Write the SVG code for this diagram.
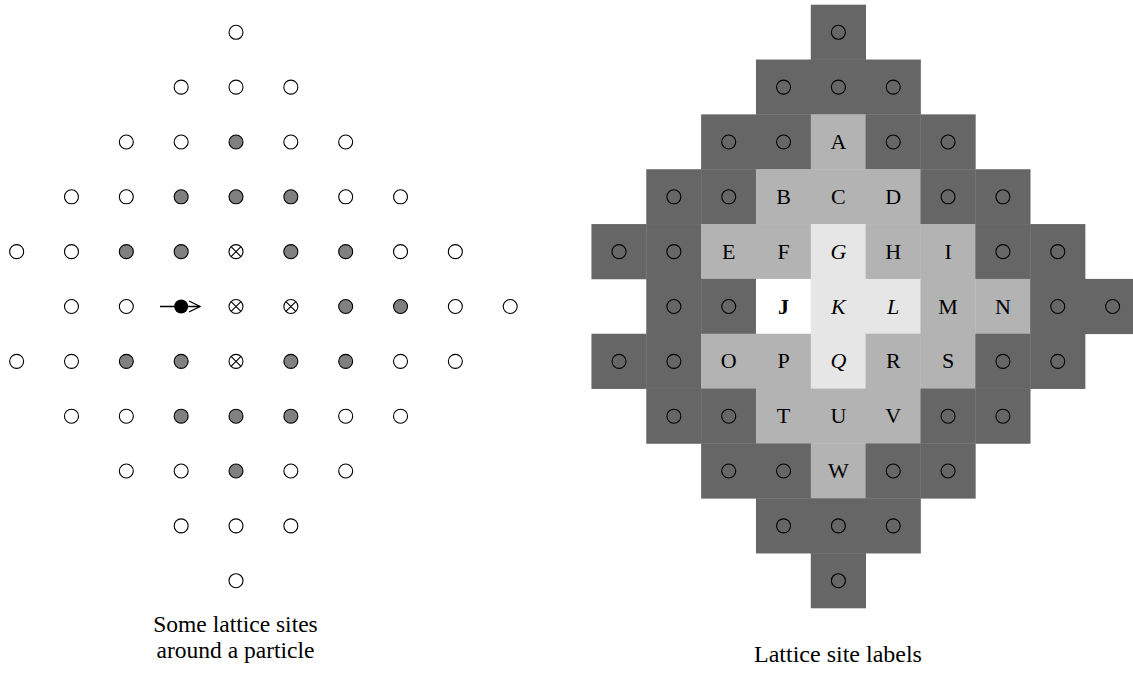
<svg xmlns="http://www.w3.org/2000/svg" xmlns:xlink="http://www.w3.org/1999/xlink" width="1133" height="673" viewBox="0 0 1133 673">
<style>
.dk{fill:#666666}
.lt{fill:#b3b3b3}
.lr{fill:#e6e6e6}
.wh{fill:#ffffff}
.lab{font-family:"Liberation Serif","Times New Roman",serif;font-size:22px;text-anchor:middle;fill:#000}
.cap{font-family:"Liberation Serif","Times New Roman",serif;font-size:24px;text-anchor:middle;fill:#000}
.cap2{font-family:"Liberation Serif","Times New Roman",serif;font-size:23.5px;text-anchor:middle;fill:#000}
</style>
<defs>
<circle id="o" r="7" fill="#fff" stroke="#000" stroke-width="1.1"/>
<circle id="g" r="7" fill="#808080" stroke="#000" stroke-width="1.1"/>
<g id="x"><circle r="7" fill="#fff" stroke="#000" stroke-width="1.1"/><path d="M-4.95,-4.95L4.95,4.95M-4.95,4.95L4.95,-4.95" stroke="#000" stroke-width="1.1"/></g>
<circle id="d" r="7" fill="none" stroke="#000" stroke-width="1.1"/>
<rect id="c" x="-27.6" y="-27.6" width="55.2" height="55.2"/>
</defs>
<rect width="1133" height="673" fill="#fff"/>

<g id="left-lattice">
<use href="#o" x="236" y="32.3"/>
<use href="#o" x="181.16" y="87.14"/><use href="#o" x="236" y="87.14"/><use href="#o" x="290.84" y="87.14"/>
<use href="#o" x="126.32" y="141.98"/><use href="#o" x="181.16" y="141.98"/><use href="#g" x="236" y="141.98"/><use href="#o" x="290.84" y="141.98"/><use href="#o" x="345.68" y="141.98"/>
<use href="#o" x="71.48" y="196.82"/><use href="#o" x="126.32" y="196.82"/><use href="#g" x="181.16" y="196.82"/><use href="#g" x="236" y="196.82"/><use href="#g" x="290.84" y="196.82"/><use href="#o" x="345.68" y="196.82"/><use href="#o" x="400.52" y="196.82"/>
<use href="#o" x="16.64" y="251.66"/><use href="#o" x="71.48" y="251.66"/><use href="#g" x="126.32" y="251.66"/><use href="#g" x="181.16" y="251.66"/><use href="#x" x="236" y="251.66"/><use href="#g" x="290.84" y="251.66"/><use href="#g" x="345.68" y="251.66"/><use href="#o" x="400.52" y="251.66"/><use href="#o" x="455.36" y="251.66"/>
<use href="#o" x="71.48" y="306.5"/><use href="#o" x="126.32" y="306.5"/><use href="#x" x="236" y="306.5"/><use href="#x" x="290.84" y="306.5"/><use href="#g" x="345.68" y="306.5"/><use href="#g" x="400.52" y="306.5"/><use href="#o" x="455.36" y="306.5"/><use href="#o" x="510.2" y="306.5"/>
<use href="#o" x="16.64" y="361.34"/><use href="#o" x="71.48" y="361.34"/><use href="#g" x="126.32" y="361.34"/><use href="#g" x="181.16" y="361.34"/><use href="#x" x="236" y="361.34"/><use href="#g" x="290.84" y="361.34"/><use href="#g" x="345.68" y="361.34"/><use href="#o" x="400.52" y="361.34"/><use href="#o" x="455.36" y="361.34"/>
<use href="#o" x="71.48" y="416.18"/><use href="#o" x="126.32" y="416.18"/><use href="#g" x="181.16" y="416.18"/><use href="#g" x="236" y="416.18"/><use href="#g" x="290.84" y="416.18"/><use href="#o" x="345.68" y="416.18"/><use href="#o" x="400.52" y="416.18"/>
<use href="#o" x="126.32" y="471.02"/><use href="#o" x="181.16" y="471.02"/><use href="#g" x="236" y="471.02"/><use href="#o" x="290.84" y="471.02"/><use href="#o" x="345.68" y="471.02"/>
<use href="#o" x="181.16" y="525.86"/><use href="#o" x="236" y="525.86"/><use href="#o" x="290.84" y="525.86"/>
<use href="#o" x="236" y="580.7"/>
</g>

<g id="particle">
<line x1="160" y1="306.5" x2="200" y2="306.5" stroke="#000" stroke-width="1.3"/>
<circle cx="181.16" cy="306.5" r="7" fill="#000"/>
<polyline points="189,301 200,306.5 189,312" fill="none" stroke="#000" stroke-width="1.3"/>
</g>

<g id="right-cells">
<use href="#c" class="dk" x="838.4" y="32.3"/>
<use href="#c" class="dk" x="783.56" y="87.14"/><use href="#c" class="dk" x="838.4" y="87.14"/><use href="#c" class="dk" x="893.24" y="87.14"/>
<use href="#c" class="dk" x="728.72" y="141.98"/><use href="#c" class="dk" x="783.56" y="141.98"/><use href="#c" class="lt" x="838.4" y="141.98"/><use href="#c" class="dk" x="893.24" y="141.98"/><use href="#c" class="dk" x="948.08" y="141.98"/>
<use href="#c" class="dk" x="673.88" y="196.82"/><use href="#c" class="dk" x="728.72" y="196.82"/><use href="#c" class="lt" x="783.56" y="196.82"/><use href="#c" class="lt" x="838.4" y="196.82"/><use href="#c" class="lt" x="893.24" y="196.82"/><use href="#c" class="dk" x="948.08" y="196.82"/><use href="#c" class="dk" x="1002.92" y="196.82"/>
<use href="#c" class="dk" x="619.04" y="251.66"/><use href="#c" class="dk" x="673.88" y="251.66"/><use href="#c" class="lt" x="728.72" y="251.66"/><use href="#c" class="lt" x="783.56" y="251.66"/><use href="#c" class="lr" x="838.4" y="251.66"/><use href="#c" class="lt" x="893.24" y="251.66"/><use href="#c" class="lt" x="948.08" y="251.66"/><use href="#c" class="dk" x="1002.92" y="251.66"/><use href="#c" class="dk" x="1057.76" y="251.66"/>
<use href="#c" class="dk" x="673.88" y="306.5"/><use href="#c" class="dk" x="728.72" y="306.5"/><use href="#c" class="wh" x="783.56" y="306.5"/><use href="#c" class="lr" x="838.4" y="306.5"/><use href="#c" class="lr" x="893.24" y="306.5"/><use href="#c" class="lt" x="948.08" y="306.5"/><use href="#c" class="lt" x="1002.92" y="306.5"/><use href="#c" class="dk" x="1057.76" y="306.5"/><use href="#c" class="dk" x="1112.6" y="306.5"/>
<use href="#c" class="dk" x="619.04" y="361.34"/><use href="#c" class="dk" x="673.88" y="361.34"/><use href="#c" class="lt" x="728.72" y="361.34"/><use href="#c" class="lt" x="783.56" y="361.34"/><use href="#c" class="lr" x="838.4" y="361.34"/><use href="#c" class="lt" x="893.24" y="361.34"/><use href="#c" class="lt" x="948.08" y="361.34"/><use href="#c" class="dk" x="1002.92" y="361.34"/><use href="#c" class="dk" x="1057.76" y="361.34"/>
<use href="#c" class="dk" x="673.88" y="416.18"/><use href="#c" class="dk" x="728.72" y="416.18"/><use href="#c" class="lt" x="783.56" y="416.18"/><use href="#c" class="lt" x="838.4" y="416.18"/><use href="#c" class="lt" x="893.24" y="416.18"/><use href="#c" class="dk" x="948.08" y="416.18"/><use href="#c" class="dk" x="1002.92" y="416.18"/>
<use href="#c" class="dk" x="728.72" y="471.02"/><use href="#c" class="dk" x="783.56" y="471.02"/><use href="#c" class="lt" x="838.4" y="471.02"/><use href="#c" class="dk" x="893.24" y="471.02"/><use href="#c" class="dk" x="948.08" y="471.02"/>
<use href="#c" class="dk" x="783.56" y="525.86"/><use href="#c" class="dk" x="838.4" y="525.86"/><use href="#c" class="dk" x="893.24" y="525.86"/>
<use href="#c" class="dk" x="838.4" y="580.7"/>
</g>

<g id="right-sites">
<use href="#d" x="838.4" y="32.3"/>
<use href="#d" x="783.56" y="87.14"/><use href="#d" x="838.4" y="87.14"/><use href="#d" x="893.24" y="87.14"/>
<use href="#d" x="728.72" y="141.98"/><use href="#d" x="783.56" y="141.98"/><use href="#d" x="893.24" y="141.98"/><use href="#d" x="948.08" y="141.98"/>
<use href="#d" x="673.88" y="196.82"/><use href="#d" x="728.72" y="196.82"/><use href="#d" x="948.08" y="196.82"/><use href="#d" x="1002.92" y="196.82"/>
<use href="#d" x="619.04" y="251.66"/><use href="#d" x="673.88" y="251.66"/><use href="#d" x="1002.92" y="251.66"/><use href="#d" x="1057.76" y="251.66"/>
<use href="#d" x="673.88" y="306.5"/><use href="#d" x="728.72" y="306.5"/><use href="#d" x="1057.76" y="306.5"/><use href="#d" x="1112.6" y="306.5"/>
<use href="#d" x="619.04" y="361.34"/><use href="#d" x="673.88" y="361.34"/><use href="#d" x="1002.92" y="361.34"/><use href="#d" x="1057.76" y="361.34"/>
<use href="#d" x="673.88" y="416.18"/><use href="#d" x="728.72" y="416.18"/><use href="#d" x="948.08" y="416.18"/><use href="#d" x="1002.92" y="416.18"/>
<use href="#d" x="728.72" y="471.02"/><use href="#d" x="783.56" y="471.02"/><use href="#d" x="893.24" y="471.02"/><use href="#d" x="948.08" y="471.02"/>
<use href="#d" x="783.56" y="525.86"/><use href="#d" x="838.4" y="525.86"/><use href="#d" x="893.24" y="525.86"/>
<use href="#d" x="838.4" y="580.7"/>
</g>

<g id="right-labels" class="lab">
<text x="838.4" y="149">A</text>
<text x="783.56" y="203.8">B</text><text x="838.4" y="203.8">C</text><text x="893.24" y="203.8">D</text>
<text x="728.72" y="258.7">E</text><text x="783.56" y="258.7">F</text><text x="838.4" y="258.7" font-style="italic">G</text><text x="893.24" y="258.7">H</text><text x="948.08" y="258.7">I</text>
<text x="783.56" y="313.5" font-weight="bold">J</text><text x="838.4" y="313.5" font-style="italic">K</text><text x="893.24" y="313.5" font-style="italic">L</text><text x="948.08" y="313.5">M</text><text x="1002.92" y="313.5">N</text>
<text x="728.72" y="368.3">O</text><text x="783.56" y="368.3">P</text><text x="838.4" y="368.3" font-style="italic">Q</text><text x="893.24" y="368.3">R</text><text x="948.08" y="368.3">S</text>
<text x="783.56" y="423.2">T</text><text x="838.4" y="423.2">U</text><text x="893.24" y="423.2">V</text>
<text x="838.4" y="478">W</text>
</g>

<g id="captions">
<text class="cap2" x="235.5" y="632">Some lattice sites</text>
<text class="cap2" x="235.5" y="658">around a particle</text>
<text class="cap" x="838" y="662">Lattice site labels</text>
</g>
</svg>
